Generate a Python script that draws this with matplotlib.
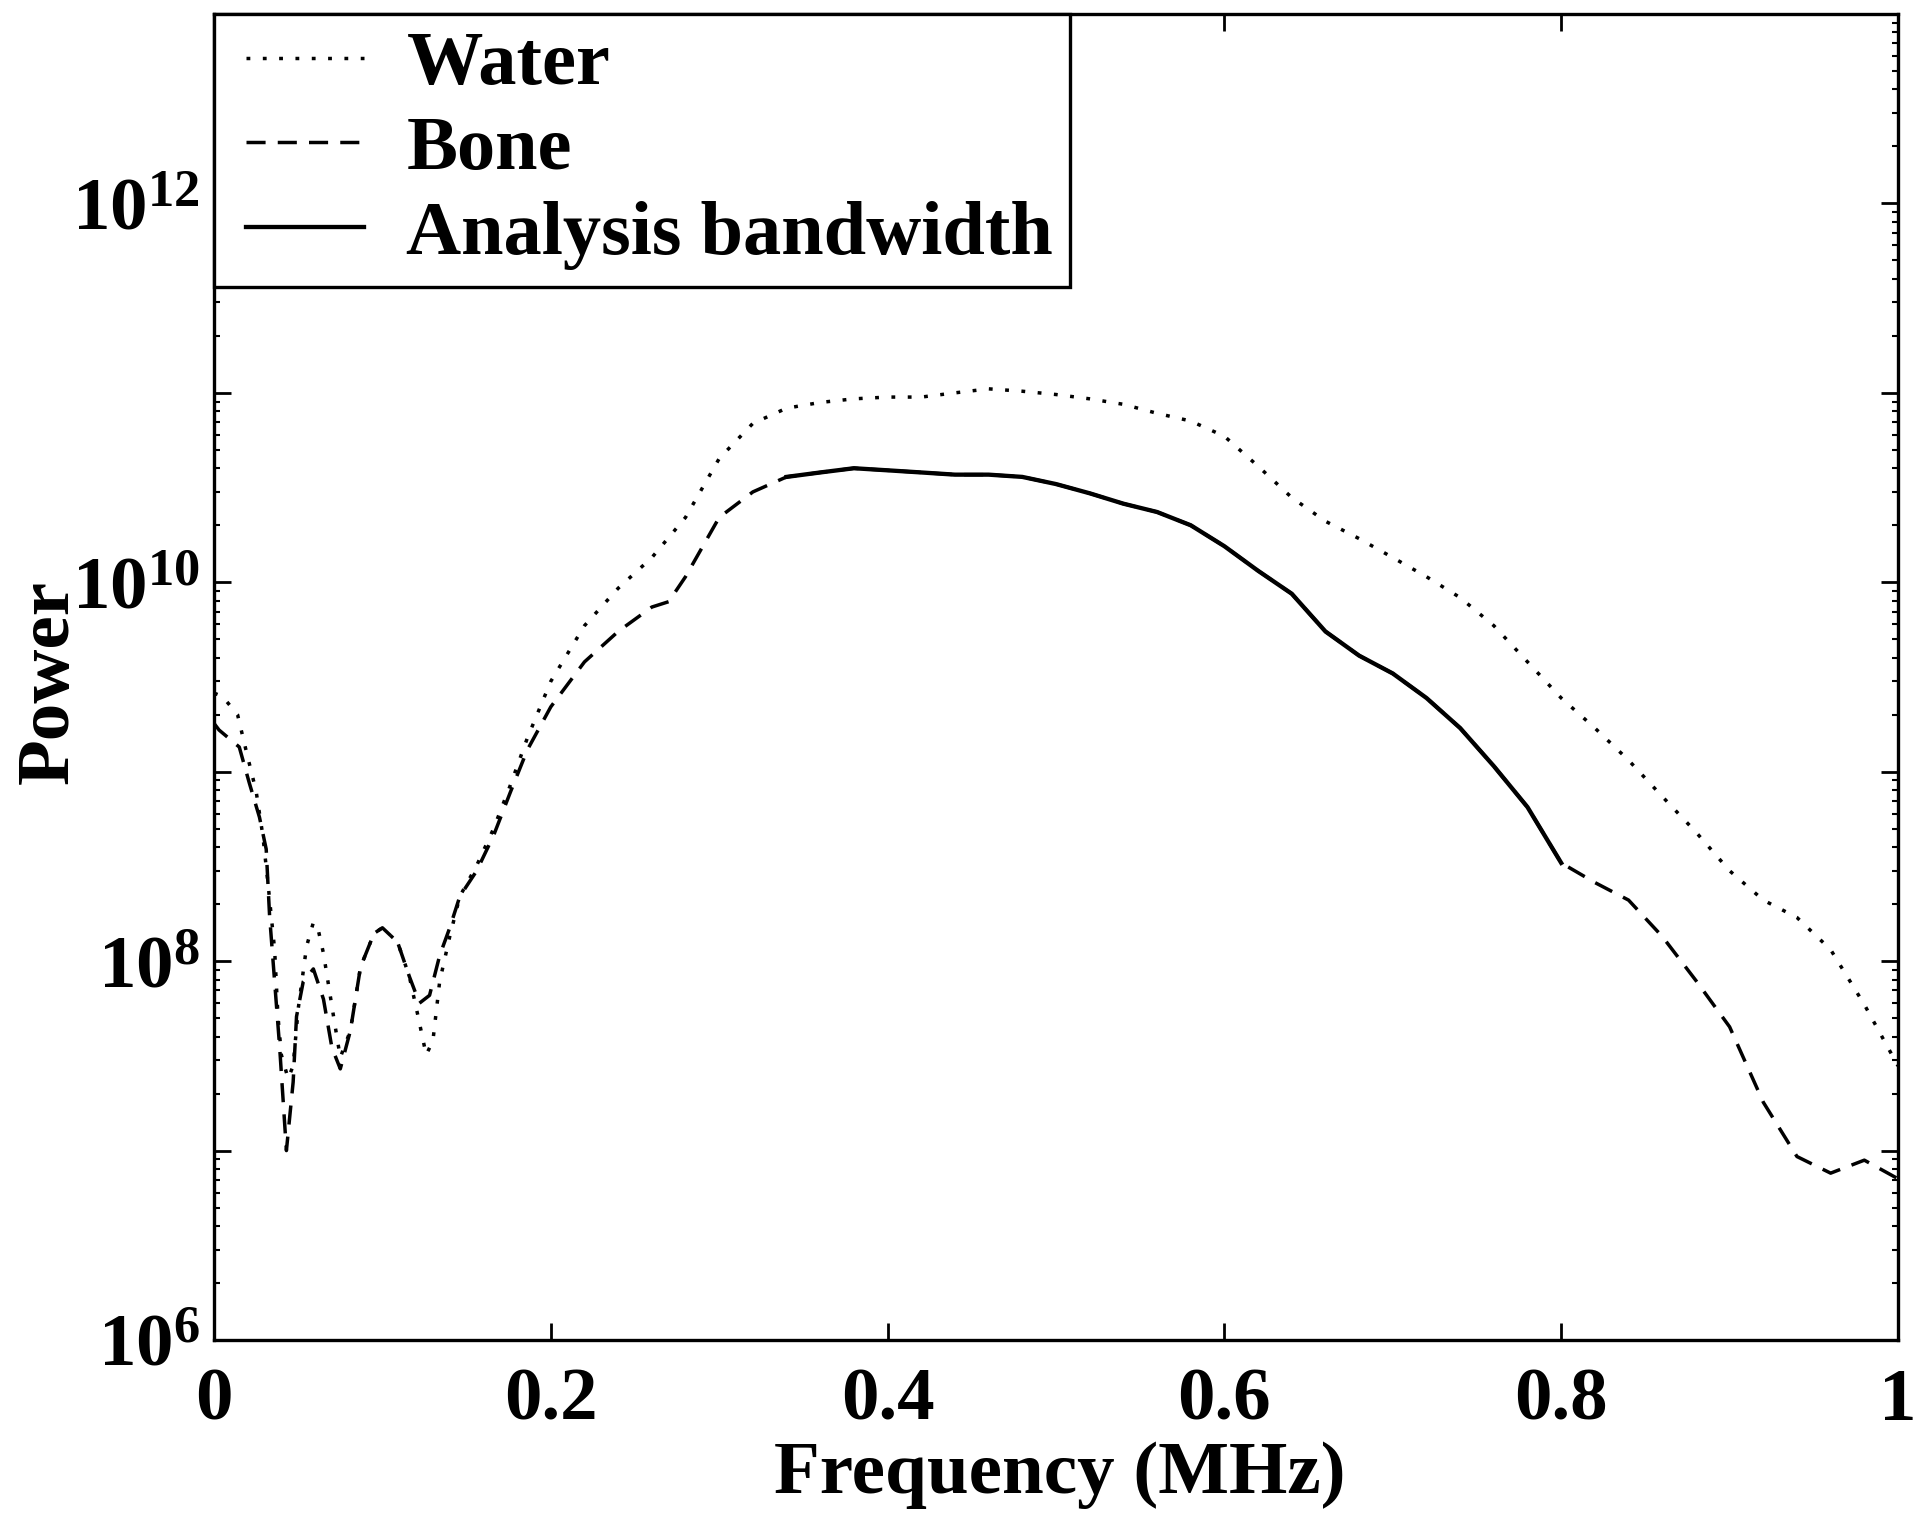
import numpy as np
import matplotlib
matplotlib.use("Agg")
import matplotlib.pyplot as plt
from matplotlib.ticker import FixedLocator, FixedFormatter, LogLocator, NullFormatter
from matplotlib.legend_handler import HandlerLine2D

# ---------------- data ----------------
water_freq = [0.000, 0.005, 0.014, 0.019, 0.025, 0.029, 0.032, 0.036, 0.038, 0.040,
              0.044, 0.047, 0.050, 0.055, 0.059, 0.062, 0.065, 0.071, 0.075, 0.081,
              0.087, 0.095, 0.100, 0.109, 0.116, 0.121, 0.126, 0.130, 0.134, 0.140,
              0.146, 0.156, 0.166, 0.176, 0.186, 0.20, 0.22, 0.24, 0.26, 0.28,
              0.30, 0.32, 0.34, 0.36, 0.38, 0.40, 0.42, 0.44, 0.46, 0.48,
              0.50, 0.52, 0.54, 0.56, 0.58, 0.60, 0.62, 0.64, 0.66, 0.68,
              0.70, 0.72, 0.74, 0.76, 0.78, 0.80, 0.82, 0.84, 0.86, 0.88,
              0.90, 0.92, 0.94, 0.96, 0.98, 1.00]
water_power = [2.6e9, 2.5e9, 2.0e9, 1.3e9, 7.9e8, 4.6e8, 2.6e8, 1.15e8, 5.1e7, 3.2e7,
               2.4e7, 2.8e7, 5.6e7, 1.2e8, 1.6e8, 1.45e8, 1.1e8, 5.1e7, 3.1e7, 4.3e7,
               9.3e7, 1.4e8, 1.5e8, 1.26e8, 8.3e7, 5.2e7, 3.2e7, 3.8e7, 7.8e7, 1.35e8,
               2.2e8, 3.2e8, 5.0e8, 8.5e8, 1.5e9, 3.0e9, 5.9e9, 9.3e9, 1.35e10, 2.2e10,
               4.5e10, 6.9e10, 8.3e10, 8.9e10, 9.3e10, 9.5e10, 9.5e10, 1.0e11, 1.05e11, 1.02e11,
               9.8e10, 9.3e10, 8.7e10, 7.8e10, 7.1e10, 5.9e10, 4.1e10, 2.8e10, 2.1e10, 1.7e10,
               1.35e10, 1.07e10, 8.3e9, 5.9e9, 3.8e9, 2.45e9, 1.7e9, 1.15e9, 7.4e8, 4.8e8,
               3.0e8, 2.1e8, 1.7e8, 1.15e8, 5.9e7, 2.8e7]

bone_freq = [0.000, 0.003, 0.015, 0.021, 0.027, 0.031, 0.033, 0.036, 0.039, 0.043,
             0.047, 0.049, 0.053, 0.059, 0.065, 0.070, 0.075, 0.081, 0.087, 0.095,
             0.100, 0.109, 0.116, 0.122, 0.128, 0.134, 0.140, 0.146, 0.156, 0.166,
             0.176, 0.186, 0.20, 0.22, 0.24, 0.26, 0.27, 0.28, 0.30, 0.32,
             0.34, 0.36, 0.38, 0.40, 0.42, 0.44, 0.46, 0.48, 0.50, 0.52,
             0.54, 0.56, 0.58, 0.60, 0.62, 0.64, 0.66, 0.68, 0.70, 0.72,
             0.74, 0.76, 0.78, 0.80, 0.82, 0.84, 0.86, 0.88, 0.90, 0.92,
             0.94, 0.96, 0.98, 1.00]
bone_power = [1.8e9, 1.66e9, 1.35e9, 8.7e8, 5.75e8, 3.9e8, 1.74e8, 7.8e7, 3.5e7, 1.0e7,
              2.3e7, 5.1e7, 7.8e7, 9.1e7, 6.3e7, 3.5e7, 2.7e7, 4.3e7, 9.3e7, 1.4e8,
              1.5e8, 1.26e8, 8.3e7, 6.0e7, 6.6e7, 1.07e8, 1.5e8, 2.2e8, 3.0e8, 4.6e8,
              7.8e8, 1.3e9, 2.2e9, 3.8e9, 5.5e9, 7.4e9, 7.9e9, 1.07e10, 2.2e10, 3.0e10,
              3.6e10, 3.8e10, 4.0e10, 3.9e10, 3.8e10, 3.7e10, 3.7e10, 3.6e10, 3.3e10, 2.95e10,
              2.6e10, 2.35e10, 2.0e10, 1.55e10, 1.15e10, 8.7e9, 5.5e9, 4.1e9, 3.3e9, 2.45e9,
              1.7e9, 1.07e9, 6.5e8, 3.3e8, 2.6e8, 2.1e8, 1.35e8, 7.9e7, 4.5e7, 1.8e7,
              9.3e6, 7.6e6, 8.9e6, 7.1e6]

# analysis bandwidth (MHz)
band_low = 0.34
band_high = 0.80

series_labels = ["Water", "Bone", "Analysis bandwidth"]
x_ticks = [0, 0.2, 0.4, 0.6, 0.8, 1]
x_tick_labels = ["0", "0.2", "0.4", "0.6", "0.8", "1"]
y_major = [1e6, 1e7, 1e8, 1e9, 1e10, 1e11, 1e12, 1e13]
y_major_labels = [r"$10^{6}$", "", r"$10^{8}$", "", r"$10^{10}$", "", r"$10^{12}$", ""]

# ---------------- style ----------------
plt.rcParams["font.family"] = ["Liberation Serif", "DejaVu Serif"]
plt.rcParams["font.weight"] = "bold"
plt.rcParams["mathtext.fontset"] = "custom"
plt.rcParams["mathtext.rm"] = "Liberation Serif:bold"
plt.rcParams["mathtext.it"] = "Liberation Serif:bold:italic"
plt.rcParams["mathtext.bf"] = "Liberation Serif:bold"

FS = 54
LW = 2.5

fig = plt.figure(figsize=(19.2, 15.24), dpi=100)
ax = fig.add_axes([214 / 1920, 1 - 1340 / 1524, (1898 - 214) / 1920, (1340 - 14) / 1524])

bf = np.array(bone_freq)
bp = np.array(bone_power)
band_mask = (bf >= band_low) & (bf <= band_high)

l_w, = ax.plot(water_freq, water_power, color="black", lw=LW, linestyle=(0, (1.1, 3.6)),
               label=series_labels[0])
l_b, = ax.plot(bone_freq, bone_power, color="black", lw=LW, linestyle=(0, (5.5, 3.5)),
               label=series_labels[1])
l_a, = ax.plot(bf[band_mask], bp[band_mask], color="black", lw=LW + 0.6, linestyle="-",
               label=series_labels[2])

ax.set_yscale("log")
ax.set_xlim(0, 1)
ax.set_ylim(1e6, 1e13)

ax.xaxis.set_major_locator(FixedLocator(x_ticks))
ax.xaxis.set_major_formatter(FixedFormatter(x_tick_labels))
ax.yaxis.set_major_locator(FixedLocator(y_major))
ax.yaxis.set_major_formatter(FixedFormatter(y_major_labels))
ax.yaxis.set_minor_locator(LogLocator(base=10, subs=np.arange(2, 10), numticks=50))
ax.yaxis.set_minor_formatter(NullFormatter())

ax.tick_params(axis="both", which="major", direction="in", length=12, width=2.0,
               top=True, right=True, labelsize=FS)
ax.tick_params(axis="y", which="minor", direction="in", length=4, width=1.5,
               left=True, right=True)
ax.tick_params(axis="x", which="major", pad=20)
ax.tick_params(axis="y", which="major", pad=10)

for s in ax.spines.values():
    s.set_linewidth(2.4)

ax.set_xlabel("Frequency (MHz)", fontsize=FS, fontweight="bold", va="center")
ax.xaxis.set_label_coords(0.502, -0.102)
ax.set_ylabel("Power", fontsize=FS, fontweight="bold", va="center")
ax.yaxis.set_label_coords(-0.0977, 0.496)

hm = {l_w: HandlerLine2D(xpad=0.2), l_b: HandlerLine2D(xpad=0.2), l_a: HandlerLine2D(xpad=0.2)}
leg = ax.legend(handles=[l_w, l_b, l_a], handler_map=hm,
                loc="upper left", bbox_to_anchor=(0, 1), borderaxespad=0,
                fontsize=55, frameon=True, fancybox=False, handlelength=1.75,
                handletextpad=0.55, borderpad=0.22, labelspacing=0.2)
leg.get_frame().set_edgecolor("black")
leg.get_frame().set_linewidth(2.4)
leg.get_frame().set_alpha(1)

fig.savefig("out.png", dpi=100, facecolor="white")
